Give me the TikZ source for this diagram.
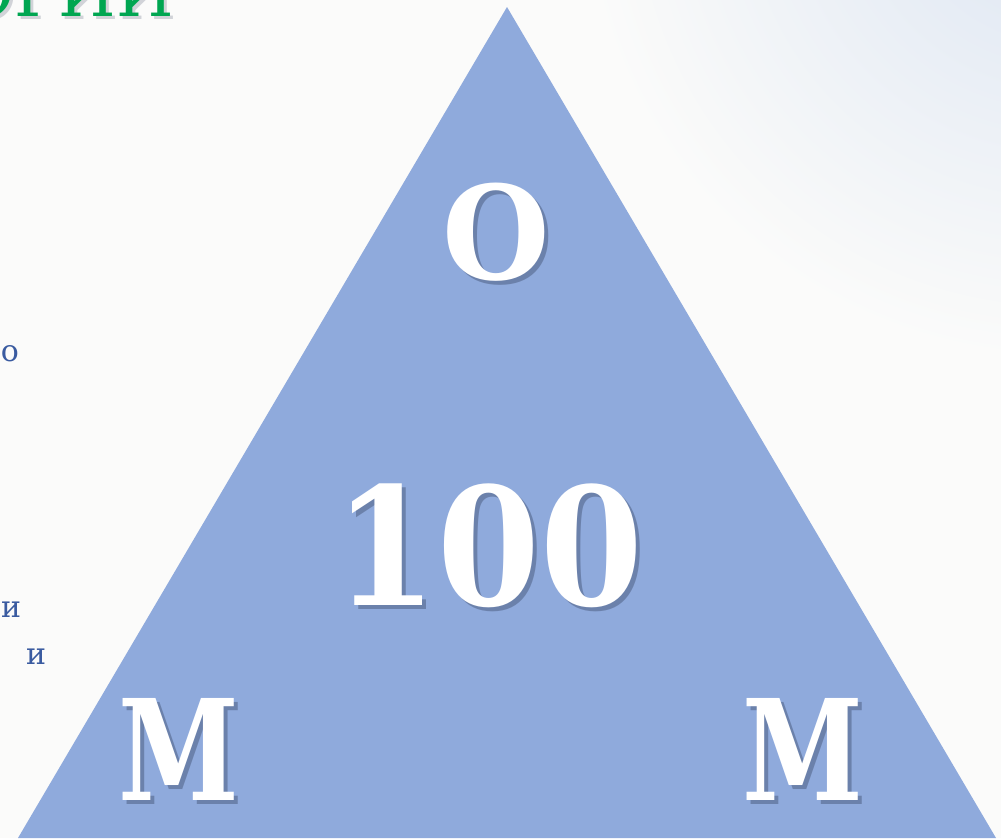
\documentclass[tikz,border=0pt]{standalone}
\usepackage{fontspec}
\setmainfont{Liberation Serif}
\newfontfamily\serfam{DejaVu Serif}
\definecolor{tri}{HTML}{8FAADC}
\definecolor{bg}{HTML}{FBFBFA}
\definecolor{grn}{HTML}{00A651}
\definecolor{blu}{HTML}{3A5BA0}
\definecolor{sky}{HTML}{DCE5F2}
\definecolor{shd}{HTML}{2A3550}
\tikzset{
  big/.style={font=\fontsize{#1}{#1}\selectfont\serfam\bfseries, text=white, inner sep=0pt, anchor=base},
  bigshadow/.style={font=\fontsize{#1}{#1}\selectfont\serfam\bfseries, text=shd, opacity=0.35, inner sep=0pt, anchor=base},
  small/.style={font=\fontsize{30}{30}\selectfont\serfam, text=blu, inner sep=0pt, anchor=base},
  titlefont/.style={font=\fontsize{66}{66}\selectfont\serfam, inner sep=0pt, anchor=base east}
}
\begin{document}
\begin{tikzpicture}[x=1pt,y=-1pt]
\useasboundingbox (0,0) rectangle (1001,838);
\fill[bg] (0,0) rectangle (1001,838);
\begin{scope}
\clip (0,0) rectangle (1001,838);
\shade[inner color=sky, outer color=bg] (1060,-120) circle (480);
\end{scope}
% triangle
\fill[tri] (507,7) -- (18,838) -- (996,838) -- cycle;
% title fragment
\node[titlefont, text=shd, opacity=0.2] (titleS) at (177,19) {ОРИИ};
\node[titlefont, text=grn] (title) at (174,16) {ОРИИ};
% small blue letters
\node[small] (s1) at (10,361) {о};
\node[small] (s2) at (11,617) {и};
\node[small] (s3) at (36,664) {и};
% O
\node[bigshadow=130, xscale=0.95] (oS) at (500,283) {О};
\node[big=130, xscale=0.95] (o) at (496,279) {О};
% 100
\node[bigshadow=164, xscale=0.9] (hS) at (493,609) {100};
\node[big=164, xscale=0.9] (h) at (489,605) {100};
% M left and right
\node[bigshadow=140, xscale=0.78] (m1S) at (183,804) {М};
\node[big=140, xscale=0.78] (m1) at (179,800) {М};
\node[bigshadow=140, xscale=0.78] (m2S) at (807,804) {М};
\node[big=140, xscale=0.78] (m2) at (803,800) {М};
\end{tikzpicture}
\end{document}
